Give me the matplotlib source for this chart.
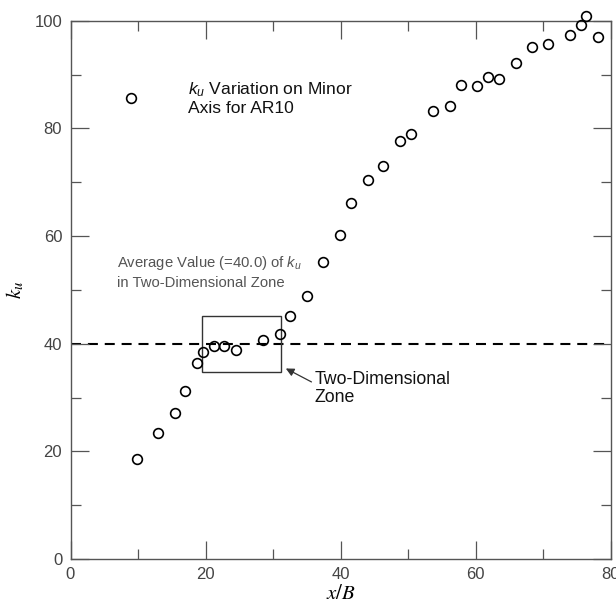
import matplotlib
matplotlib.use("Agg")
import matplotlib.pyplot as plt
from matplotlib.ticker import MultipleLocator

plt.rcParams['font.family'] = ['Liberation Sans', 'DejaVu Sans']
plt.rcParams['mathtext.fontset'] = 'custom'
plt.rcParams['mathtext.it'] = 'Liberation Sans:italic'
plt.rcParams['mathtext.rm'] = 'Liberation Sans'

# Data
x_over_B = [9.0, 9.9, 13.0, 15.5, 17.0, 18.7, 19.6, 21.2, 22.8, 24.5, 28.5, 31.0,
            32.5, 35.0, 37.4, 39.9, 41.6, 44.0, 46.3, 48.8, 50.5, 53.7, 56.2,
            57.8, 60.2, 61.8, 63.5, 66.0, 68.3, 70.8, 74.0, 75.7, 76.4, 78.1]
k_u = [85.7, 18.5, 23.4, 27.1, 31.3, 36.5, 38.4, 39.6, 39.6, 38.9, 40.6, 41.8,
       45.1, 48.9, 55.2, 60.2, 66.2, 70.5, 73.0, 77.7, 78.9, 83.3, 84.1,
       88.1, 87.9, 89.5, 89.2, 92.2, 95.1, 95.7, 97.3, 99.2, 100.9, 96.9]
average_k_u = 40.0
zone_x = [19.5, 31.2]
zone_y = [34.7, 45.1]
x_ticks = [0, 20, 40, 60, 80]
y_ticks = [0, 20, 40, 60, 80, 100]

fig = plt.figure(figsize=(6.16, 6.04), dpi=100)
ax = fig.add_axes([70.5 / 616, 1 - 559 / 604, 540 / 616, (559 - 20.8) / 604])

ax.axhline(average_k_u, color='black', lw=1.5, dashes=(4.8, 3.3), zorder=1)
ax.plot(x_over_B, k_u, linestyle='none', marker='o', markersize=7,
        markerfacecolor='none', markeredgecolor='black', markeredgewidth=1.2,
        clip_on=False, zorder=3)

ax.add_patch(plt.Rectangle((zone_x[0], zone_y[0]), zone_x[1] - zone_x[0],
                           zone_y[1] - zone_y[0], fill=False, edgecolor='#333333',
                           lw=1.0, zorder=2))

ax.annotate('', xy=(31.9, 35.4), xytext=(35.7, 32.9),
            arrowprops=dict(arrowstyle='-|>', color='#333333', lw=0.9,
                            mutation_scale=12, shrinkA=0, shrinkB=0))
ax.text(36.2, 31.7, 'Two-Dimensional\nZone', ha='left', va='center',
        fontsize=12.8, color='#111111', linespacing=1.1)
ax.text(17.45, 85.6, r'$k_u$ Variation on Minor' + '\nAxis for AR10',
        ha='left', va='center', fontsize=12.6, color='#111111', linespacing=1.15)
ax.text(6.93, 53.3, 'Average Value (=40.0) of ' + r'$k_u$' + '\nin Two-Dimensional Zone',
        ha='left', va='center', fontsize=10.7, color='#555555', linespacing=1.35)

ax.set_xlim(0, 80)
ax.set_ylim(0, 100)
ax.set_xticks(x_ticks)
ax.set_yticks(y_ticks)
ax.xaxis.set_minor_locator(MultipleLocator(10))
ax.yaxis.set_minor_locator(MultipleLocator(10))
ax.tick_params(which='both', direction='in', top=True, right=True,
               color='#555555', width=0.9, labelcolor='#444444', labelsize=12)
ax.tick_params(which='major', length=13)
ax.tick_params(which='minor', length=7)
ax.tick_params(axis='x', pad=6)
ax.tick_params(axis='y', pad=6)
for s in ax.spines.values():
    s.set_color('#555555')
    s.set_linewidth(1.0)

ax.set_xlabel(r'$x/B$', fontsize=15, math_fontfamily='stix', labelpad=1)
ax.set_ylabel(r'$k_u$', fontsize=15, math_fontfamily='stix', labelpad=6)

fig.savefig('out.png', dpi=100)
